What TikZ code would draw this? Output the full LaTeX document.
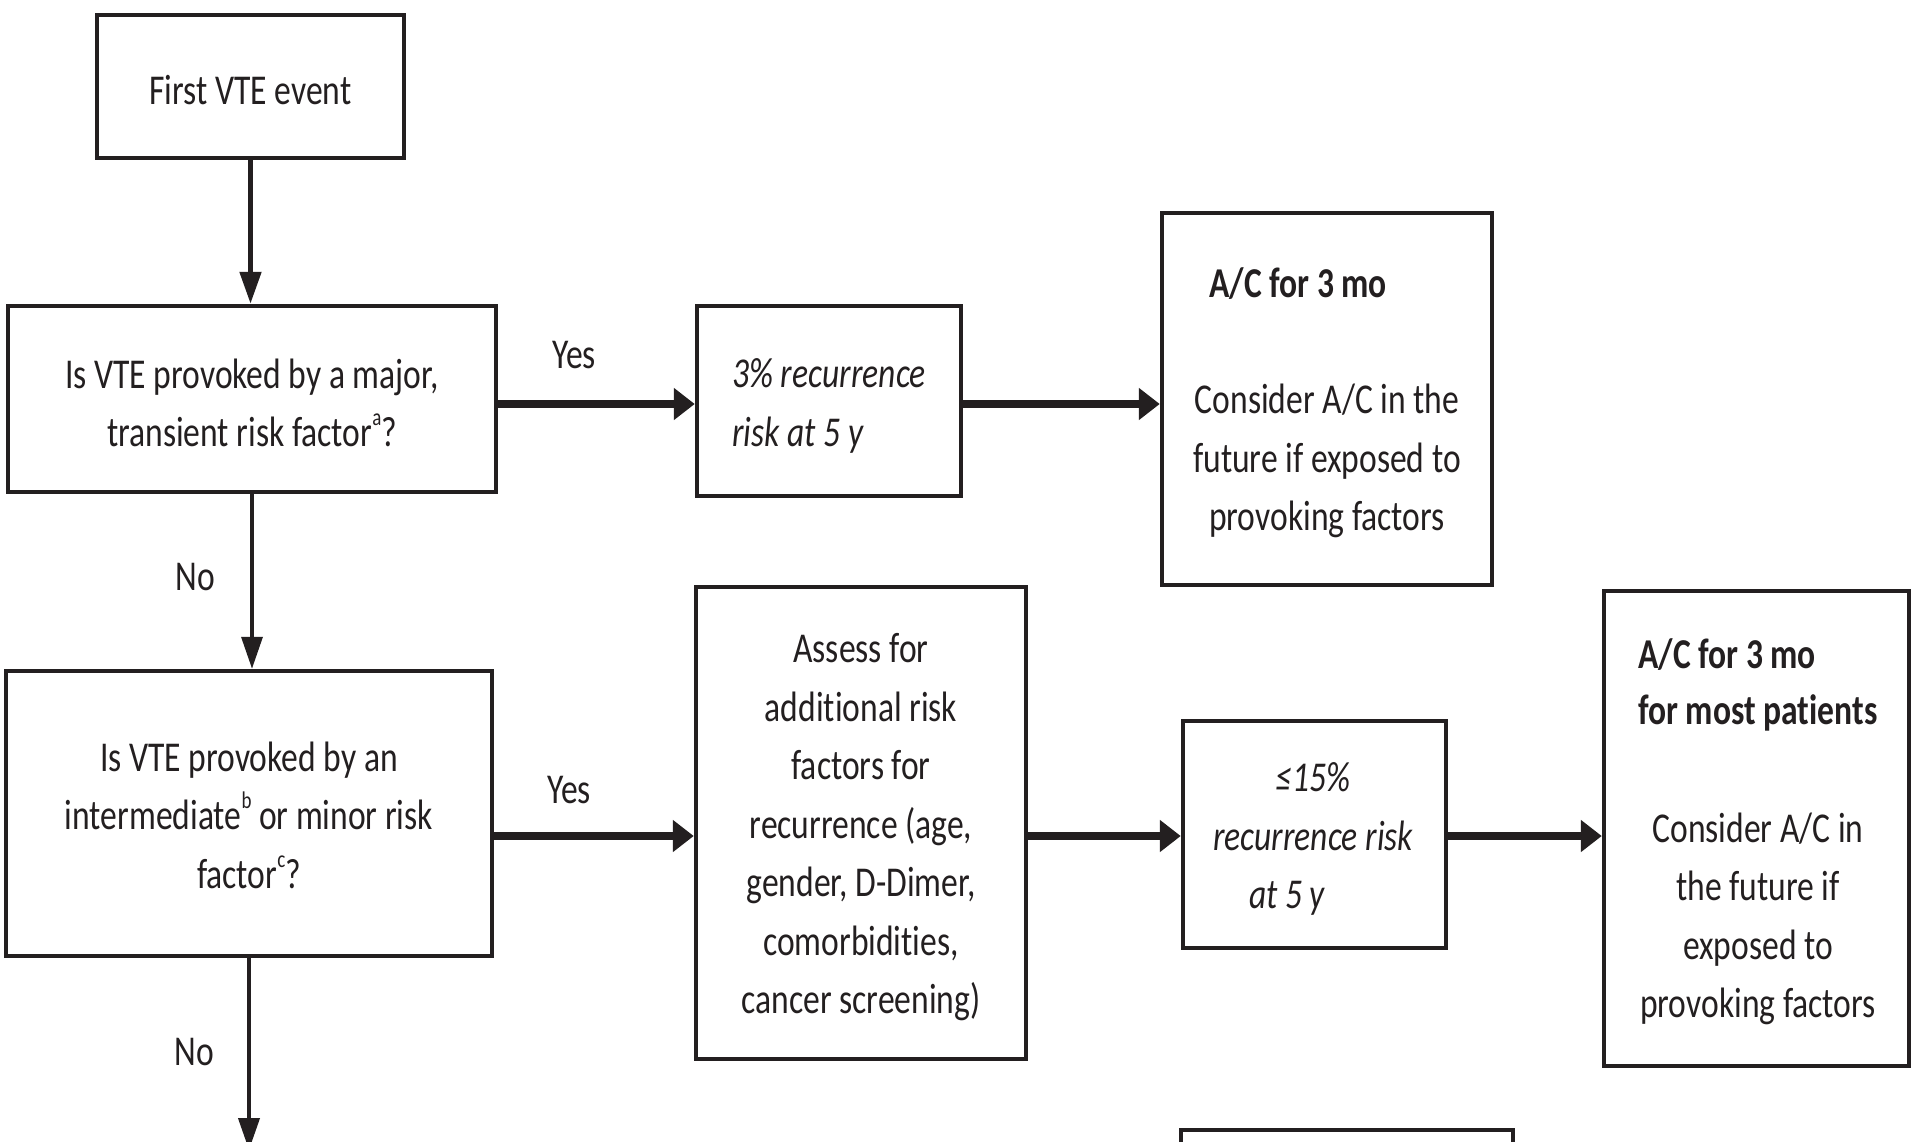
\documentclass[tikz,border=0pt]{standalone}
\usepackage{fontspec}
\setmainfont{Carlito}[FakeStretch=0.79, Ligatures=NoCommon]
\usetikzlibrary{arrows.meta}
\definecolor{ink}{RGB}{35,31,32}
% small raised letter for footnote marks
\newcommand\supmark[1]{\raisebox{21pt}{\fontsize{24}{24}\selectfont #1}}

\begin{document}
\begin{tikzpicture}[x=1pt,y=-1pt,
  box/.style={draw=ink, line width=4.5pt, inner sep=0pt},
  txt/.style={text=ink, inner sep=0pt, align=center, font=\fontsize{42.5}{58.5}\selectfont},
  vflow/.style={draw=ink, -{Triangle[length=32pt,width=21pt]}},
  hflow/.style={draw=ink, line width=8pt, -{Triangle[length=21pt,width=31pt]}},
]
\useasboundingbox (0,0) rectangle (1913,1141);
\fill[white] (0,0) rectangle (1913,1141);
\clip (0,0) rectangle (1913,1141);

% boxes
\node[box, minimum width=307pt, minimum height=143pt] (first) at (250.5,86.5) {};
\node[box, minimum width=488pt, minimum height=186pt] (q1) at (252,399) {};
\node[box, minimum width=264pt, minimum height=190pt] (pct) at (829,401) {};
\node[box, minimum width=330pt, minimum height=372pt] (ac1) at (1327,399) {};
\node[box, minimum width=486pt, minimum height=285pt] (q2) at (249,813.5) {};
\node[box, minimum width=330pt, minimum height=472pt] (assess) at (861,823) {};
\node[box, minimum width=263pt, minimum height=227pt] (le) at (1314.5,834.5) {};
\node[box, minimum width=305pt, minimum height=475pt] (ac2) at (1756.5,828.5) {};
\node[box, minimum width=332pt, minimum height=300pt] (next) at (1347,1280) {};

% texts
\node[txt] (tfirst) at (250.5,90) {First VTE event};
\node[txt] (tq1) at (252,403) {Is VTE provoked by a major,\\ transient risk factor\supmark{a}?};
\node[txt, align=left, font=\fontsize{42.5}{58.5}\selectfont\itshape] (tpct) at (829,406) {3\% recurrence\\ risk at 5 y};
\node[txt, anchor=west, font=\fontsize{42.5}{58.5}\selectfont\bfseries] (tac1h) at (1209,284) {A/C for 3 mo};
\node[txt] (tac1b) at (1327,461) {Consider A/C in the\\ future if exposed to\\ provoking factors};
\node[txt] (tq2) at (249,815) {Is VTE provoked by an\\ intermediate\supmark{b} or minor risk\\ factor\supmark{c}?};
\node[txt] (tassess) at (861,827.5) {Assess for\\ additional risk\\ factors for\\ recurrence (age,\\ gender, D-Dimer,\\ comorbidities,\\ cancer screening)};
\node[txt, font=\fontsize{42.5}{58.5}\selectfont\itshape] (tle) at (1313,839) {≤15\%\\ recurrence risk\\ at 5 y\hspace*{52pt}};
\node[txt, anchor=west, align=left, font=\fontsize{42.5}{56}\selectfont\bfseries] (tac2h) at (1638,685) {A/C for 3 mo\\ for most patients};
\node[txt] (tac2b) at (1758,919) {Consider A/C in\\ the future if\\ exposed to\\ provoking factors};

% branch labels
\node[txt] (yes1) at (574,355) {Yes};
\node[txt] (yes2) at (569,790) {Yes};
\node[txt] (no1) at (195,577) {No};
\node[txt] (no2) at (194,1052) {No};

% row levels of the horizontal connectors
\coordinate (row1) at (0,404);
\coordinate (row2) at (0,836);
\coordinate (cont) at (249,1150);

% vertical connectors
\draw[vflow, line width=5pt] (first.south) -- (first.south |- q1.north);
\draw[vflow, line width=3.5pt] (q1.south) -- (q1.south |- q2.north);
\draw[vflow, line width=4pt] (q2.south) -- (cont);

% horizontal connectors
\draw[hflow] (q1.east |- row1) -- (pct.west |- row1);
\draw[hflow] (pct.east |- row1) -- (ac1.west |- row1);
\draw[hflow] (q2.east |- row2) -- (assess.west |- row2);
\draw[hflow] (assess.east |- row2) -- (le.west |- row2);
\draw[hflow] (le.east |- row2) -- (ac2.west |- row2);
\end{tikzpicture}
\end{document}
